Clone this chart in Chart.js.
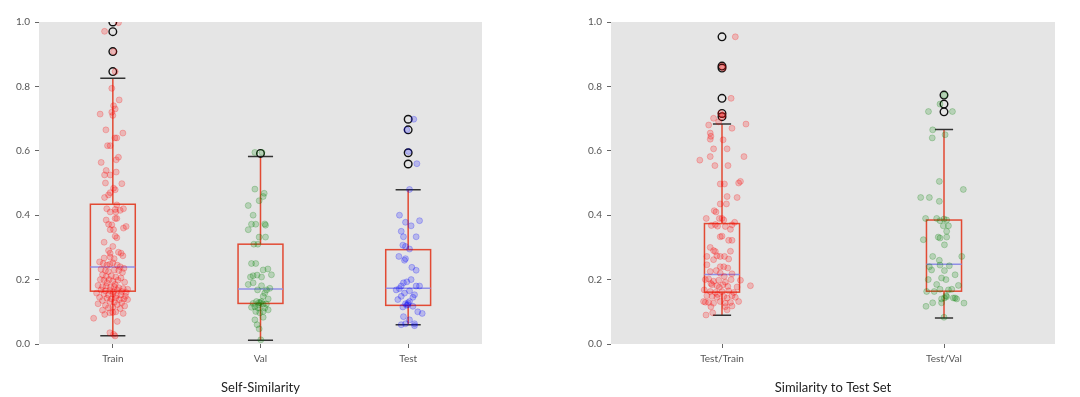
<!DOCTYPE html>
<html>
<head>
<meta charset="utf-8">
<script src="https://cdn.jsdelivr.net/npm/chart.js@4/dist/chart.umd.min.js"></script>
<style>
  body { margin: 0; background: #fff; }
  .panel { position: absolute; top: 0; width: 540px; height: 397px; }
  #p1 { left: 0; }
  #p2 { left: 540px; }
</style>
</head>
<body>
<div class="panel" id="p1"><canvas id="selfChart"></canvas></div>
<div class="panel" id="p2"><canvas id="testChart"></canvas></div>
<script>
// ---- left panel: Self-Similarity ----
const selfCats = ['Train', 'Val', 'Test'];
const selfQ1 = [0.164, 0.126, 0.120];
const selfMedian = [0.239, 0.171, 0.173];
const selfQ3 = [0.434, 0.310, 0.293];
const selfWhiskLo = [0.026, 0.012, 0.060];
const selfWhiskHi = [0.825, 0.582, 0.479];
const selfOutliers = [[0.846, 0.908, 0.970, 1.0], [0.592], [0.559, 0.594, 0.665, 0.698]];

// jittered points: [offset from category, value]
const trainPts = [
  [-0.056,0.971],[0.038,0.998],[0.005,0.908],[0.016,0.846],[-0.007,0.794],[-0.086,0.714],[0.043,0.758],
  [0.005,0.74],[0.016,0.73],[-0.007,0.72],[0,0.71],[-0.047,0.665],[0.068,0.655],[0.014,0.64],[0.027,0.64],
  [-0.036,0.616],[-0.018,0.616],[0.038,0.58],[0.023,0.572],[-0.079,0.564],[-0.045,0.539],[0.023,0.534],
  [-0.018,0.525],[-0.056,0.525],[-0.05,0.5],[0.061,0.498],[0.005,0.484],[0.016,0.479],[-0.018,0.47],
  [-0.029,0.463],[-0.056,0.455],[0.027,0.432],[-0.041,0.42],[0.016,0.418],[0.05,0.415],[-0.018,0.41],
  [0.02,0.41],[0.072,0.42],[0.016,0.39],[0.027,0.39],[-0.045,0.385],[-0.029,0.372],[-0.007,0.37],
  [-0.018,0.355],[0.005,0.355],[0.072,0.36],[0.09,0.365],[0.016,0.335],[0.027,0.33],[-0.059,0.316],
  [0,0.303],[-0.029,0.29],[-0.018,0.282],[0.038,0.285],[0.056,0.282],[0.068,0.274],[-0.018,0.27],
  [0.009,0.265],[-0.059,0.267],
  [-0.09,0.255],[-0.065,0.25],[-0.04,0.245],[-0.02,0.248],[0.0,0.252],[0.03,0.245],[0.05,0.24],
  [0.075,0.235],[-0.08,0.232],[-0.05,0.228],[-0.03,0.225],[0.01,0.23],[0.04,0.228],[0.065,0.222],
  [-0.07,0.215],[-0.045,0.21],[-0.01,0.212],[0.02,0.208],[0.055,0.205],[-0.085,0.2],[-0.06,0.198],
  [-0.025,0.2],[0.0,0.195],[0.035,0.198],[0.08,0.192],[-0.04,0.19],[0.015,0.185],
  [-0.1,0.182],[-0.07,0.178],[-0.045,0.18],[-0.015,0.176],[0.01,0.178],[0.04,0.175],[0.07,0.172],
  [0.1,0.17],[-0.08,0.168],[-0.05,0.165],[-0.02,0.166],[0.005,0.162],[0.03,0.168],[0.06,0.163],
  [0.09,0.16],[-0.11,0.158],[-0.06,0.155],[-0.03,0.152],[0.0,0.155],[0.025,0.15],[0.055,0.152],
  [0.085,0.148],[-0.09,0.145],[-0.04,0.142],[-0.01,0.14],[0.02,0.143],[0.045,0.138],[0.075,0.14],
  [0.1,0.138],[-0.07,0.135],[-0.02,0.132],[0.01,0.13],[0.06,0.128],[-0.1,0.125],[-0.05,0.12],
  [0.03,0.122],[0.08,0.118],[-0.03,0.112],[0.0,0.115],[0.05,0.11],[-0.07,0.105],[0.02,0.1],
  [0.0,0.098],[-0.02,0.097],[0.07,0.095],[-0.055,0.092],[-0.13,0.08],[0.03,0.07],[-0.02,0.035],
  [0.005,0.03],[0.015,0.025]
];
const valPts = [
  [-0.038,0.595],[0.01,0.595],[-0.038,0.481],[0.025,0.468],[0.018,0.458],[-0.009,0.445],[-0.083,0.43],
  [-0.05,0.4],[-0.061,0.372],[-0.032,0.372],[0.029,0.373],[0.034,0.369],[-0.083,0.355],[-0.009,0.332],
  [0.034,0.332],[-0.045,0.31],[-0.018,0.31],[-0.061,0.25],[-0.032,0.25],[0.018,0.23],[0.05,0.233],
  [-0.05,0.212],[-0.023,0.214],[0.007,0.208],[-0.068,0.208],[0.074,0.215],[-0.083,0.185],[-0.05,0.19],
  [0.007,0.181],[-0.02,0.168],[0.041,0.168],[0.063,0.173],[0.029,0.158],[0.018,0.148],[0.052,0.14],
  [-0.027,0.132],[-0.009,0.129],[0.007,0.132],[-0.05,0.126],[0.018,0.124],[-0.038,0.116],[-0.016,0.112],
  [-0.061,0.114],[0.029,0.112],[0.052,0.106],[0.018,0.101],[-0.032,0.101],[-0.005,0.097],[0.018,0.083],
  [-0.038,0.075],[-0.023,0.06],[-0.009,0.047],[0.002,0.013],[-0.012,0.121],[0.0,0.128],[0.04,0.124]
];
const testPts = [
  [0.038,0.698],[-0.009,0.665],[0.002,0.598],[0.059,0.56],[0.009,0.48],[-0.059,0.4],[-0.018,0.378],
  [0.077,0.383],[0.02,0.367],[-0.047,0.35],[-0.032,0.333],[0.054,0.333],[-0.036,0.307],[-0.018,0.303],
  [0.009,0.295],[-0.063,0.272],[-0.018,0.265],[-0.025,0.26],[0.025,0.238],[0.054,0.229],[-0.032,0.19],
  [-0.009,0.193],[0.02,0.2],[0.054,0.18],[-0.047,0.18],[-0.081,0.168],[0.009,0.165],[0.077,0.18],
  [-0.025,0.158],[-0.047,0.148],[0.032,0.145],[0.043,0.153],[-0.07,0.138],[0.009,0.132],[-0.018,0.125],
  [-0.002,0.122],[-0.036,0.115],[0.032,0.117],[0.065,0.1],[0.095,0.095],[-0.032,0.085],[0.009,0.075],
  [-0.018,0.063],[0.043,0.063],[-0.047,0.06],[0.043,0.057],[-0.01,0.12],[0.0,0.128],[-0.06,0.172]
];

// ---- right panel: Similarity to Test Set ----
const simCats = ['Test/Train', 'Test/Val'];
const simQ1 = [0.161, 0.164];
const simMedian = [0.216, 0.248];
const simQ3 = [0.374, 0.385];
const simWhiskLo = [0.089, 0.081];
const simWhiskHi = [0.683, 0.666];
const simOutliers = [[0.706, 0.716, 0.763, 0.857, 0.863, 0.954], [0.721, 0.745, 0.773]];

const testTrainPts = [
  [0.06,0.954],[0.0,0.863],[0.005,0.857],[0.041,0.763],[-0.006,0.716],[0.0,0.706],[0.005,0.711],
  [-0.038,0.701],[-0.015,0.69],[0.108,0.683],[-0.06,0.68],[0.045,0.67],[-0.053,0.655],[-0.05,0.645],
  [-0.053,0.636],[0.005,0.634],[0.023,0.606],[-0.038,0.606],[-0.1,0.571],[0.099,0.582],[-0.053,0.582],
  [-0.032,0.554],[0.027,0.554],[0.075,0.5],[0.083,0.505],[-0.008,0.497],[0.011,0.497],[0.068,0.455],
  [0.023,0.458],[-0.008,0.435],[0.02,0.435],[-0.035,0.414],[-0.027,0.41],[-0.012,0.39],[0.0,0.39],
  [0.008,0.385],[-0.071,0.39],[-0.048,0.368],[-0.03,0.371],[-0.02,0.366],[0.015,0.365],[0.045,0.37],
  [0.057,0.378],[0.038,0.356],[-0.008,0.333],[0.0,0.335],[0.03,0.322],[0.045,0.322],[-0.053,0.3],
  [-0.038,0.29],[-0.03,0.287],[0.038,0.288],[-0.068,0.272],[-0.023,0.274],[-0.008,0.272],[0.011,0.272],
  [-0.038,0.262],[0.03,0.264],[-0.068,0.246],[-0.008,0.24],[0.008,0.24],[0.026,0.236],[-0.053,0.225],
  [-0.026,0.228],[-0.008,0.22],[0.045,0.218],[-0.075,0.2],[-0.06,0.202],[-0.038,0.195],[-0.015,0.198],
  [0.015,0.192],[0.041,0.2],[0.083,0.198],[-0.045,0.184],[-0.023,0.181],[0.005,0.184],[0.026,0.179],
  [0.068,0.177],[0.128,0.181],[-0.08,0.168],[-0.053,0.163],[-0.03,0.16],[0.0,0.163],[0.03,0.165],
  [0.053,0.16],[-0.068,0.15],[-0.045,0.148],[-0.023,0.145],[0.008,0.148],[0.023,0.143],[0.045,0.15],
  [-0.083,0.132],[-0.06,0.129],[-0.038,0.127],[-0.008,0.132],[0.015,0.127],[0.038,0.129],[0.075,0.132],
  [-0.05,0.116],[0.015,0.116],[0.045,0.118],[0.023,0.106],[-0.042,0.097],[-0.072,0.09],[-0.075,0.13],
  [-0.012,0.176],[0.01,0.21],[-0.05,0.188],[0.06,0.145],[-0.02,0.154]
];
const testValPts = [
  [0.002,0.773],[-0.018,0.745],[-0.07,0.722],[0.038,0.722],[-0.051,0.665],[-0.053,0.64],[0.005,0.65],
  [-0.021,0.505],[0.087,0.48],[-0.105,0.455],[-0.066,0.455],[-0.021,0.443],[-0.083,0.39],[-0.033,0.39],
  [0.0,0.388],[0.012,0.385],[-0.018,0.383],[-0.003,0.367],[0.02,0.367],[0.012,0.35],[-0.026,0.332],
  [-0.018,0.329],[0.012,0.332],[-0.093,0.324],[0.002,0.308],[-0.051,0.272],[0.08,0.272],[-0.021,0.26],
  [-0.066,0.24],[-0.056,0.23],[-0.018,0.245],[0.024,0.243],[0.002,0.228],[0.05,0.215],[-0.011,0.205],
  [0.009,0.2],[-0.071,0.2],[-0.033,0.185],[0.065,0.182],[-0.018,0.17],[0.02,0.168],[0.035,0.17],
  [-0.044,0.163],[-0.078,0.163],[0.012,0.147],[0.002,0.143],[0.009,0.15],[0.042,0.143],[0.05,0.143],
  [-0.011,0.14],[0.057,0.14],[-0.051,0.128],[-0.011,0.128],[0.09,0.127],[-0.081,0.117],[0.0,0.083]
];

const boxRed = '#E24A33';
const medianColor = '#8f8fe6';
const capColor = '#333333';

Chart.defaults.font.family = 'Lato, "DejaVu Sans", sans-serif';
Chart.defaults.color = '#555';

// gray plot background + box/whisker drawing through the scales
const boxPlugin = {
  id: 'boxes',
  beforeDatasetsDraw(chart, args, opts) {
    const { ctx, scales: { x, y } } = chart;
    ctx.save();
    ctx.lineWidth = 1.5;
    opts.q1.forEach((q1, i) => {
      const c = i + 1;
      const xl = x.getPixelForValue(c - opts.boxHalf), xr = x.getPixelForValue(c + opts.boxHalf);
      const xc = x.getPixelForValue(c);
      const cl = x.getPixelForValue(c - opts.capHalf), cr = x.getPixelForValue(c + opts.capHalf);
      const yq1 = y.getPixelForValue(q1), yq3 = y.getPixelForValue(opts.q3[i]);
      const ylo = y.getPixelForValue(opts.lo[i]), yhi = y.getPixelForValue(opts.hi[i]);
      const ym = y.getPixelForValue(opts.med[i]);
      ctx.strokeStyle = boxRed;
      ctx.beginPath();
      ctx.moveTo(xc, yq3); ctx.lineTo(xc, yhi);
      ctx.moveTo(xc, yq1); ctx.lineTo(xc, ylo);
      ctx.stroke();
      ctx.strokeRect(xl, yq3, xr - xl, yq1 - yq3);
      ctx.strokeStyle = capColor;
      ctx.beginPath();
      ctx.moveTo(cl, yhi); ctx.lineTo(cr, yhi);
      ctx.moveTo(cl, ylo); ctx.lineTo(cr, ylo);
      ctx.stroke();
      ctx.strokeStyle = medianColor;
      ctx.beginPath();
      ctx.moveTo(xl, ym); ctx.lineTo(xr, ym);
      ctx.stroke();
    });
    ctx.restore();
  },
  beforeDraw(chart) {
    const { ctx, chartArea: a } = chart;
    ctx.save();
    ctx.fillStyle = '#E5E5E5';
    ctx.fillRect(a.left, a.top, a.right - a.left, a.bottom - a.top);
    ctx.restore();
  }
};

function pointSet(pts, cat, rgb) {
  return {
    data: pts.map(p => ({ x: cat + p[0], y: p[1] })),
    backgroundColor: 'rgba(' + rgb + ',0.2)',
    borderColor: 'rgba(' + rgb + ',0.22)',
    borderWidth: 1,
    pointRadius: 3,
    clip: 0
  };
}

function outlierSet(outs) {
  const data = [];
  outs.forEach((vals, i) => vals.forEach(v => data.push({ x: i + 1, y: v })));
  return {
    data: data,
    backgroundColor: 'rgba(0,0,0,0)',
    borderColor: '#111',
    borderWidth: 1.4,
    pointRadius: 3.8,
    clip: 0
  };
}

function makeChart(id, cats, stats, datasets, title, pad, boxHalf, capHalf) {
  new Chart(document.getElementById(id), {
    type: 'scatter',
    data: { datasets: datasets },
    plugins: [boxPlugin],
    options: {
      responsive: true,
      maintainAspectRatio: false,
      animation: false,
      events: [],
      layout: { padding: pad },
      plugins: {
        legend: { display: false },
        tooltip: { enabled: false },
        boxes: Object.assign({ boxHalf: boxHalf, capHalf: capHalf }, stats)
      },
      scales: {
        x: {
          type: 'linear',
          min: 0.5,
          max: cats.length + 0.5,
          afterBuildTicks: s => { s.ticks = cats.map((c, i) => ({ value: i + 1 })); },
          afterFit: s => { s.height = 53; },
          ticks: {
            callback: v => cats[Math.round(v) - 1],
            font: { size: 10 },
            color: '#555',
            padding: 5,
            autoSkip: false,
            maxRotation: 0
          },
          grid: { drawOnChartArea: false, drawTicks: true, tickLength: 4, tickColor: '#666' },
          border: { display: false },
          title: {
            display: true,
            text: title,
            color: '#222',
            font: { size: 13 },
            padding: { top: 0, bottom: 1 }
          }
        },
        y: {
          min: 0,
          max: 1,
          afterFit: s => { s.width = 39; },
          ticks: {
            stepSize: 0.2,
            callback: v => v.toFixed(1),
            font: { size: 10 },
            color: '#555',
            padding: 5
          },
          grid: { drawOnChartArea: false, drawTicks: true, tickLength: 4, tickColor: '#666' },
          border: { display: false }
        }
      }
    }
  });
}

makeChart('selfChart', selfCats,
  { q1: selfQ1, med: selfMedian, q3: selfQ3, lo: selfWhiskLo, hi: selfWhiskHi },
  [
    pointSet(trainPts, 1, '255,0,0'),
    pointSet(valPts, 2, '0,128,0'),
    pointSet(testPts, 3, '0,0,255'),
    outlierSet(selfOutliers)
  ],
  'Self-Similarity', { top: 22, right: 58, left: 0, bottom: 0 }, 0.152, 0.085);

makeChart('testChart', simCats,
  { q1: simQ1, med: simMedian, q3: simQ3, lo: simWhiskLo, hi: simWhiskHi },
  [
    pointSet(testTrainPts, 1, '255,0,0'),
    pointSet(testValPts, 2, '0,128,0'),
    outlierSet(simOutliers)
  ],
  'Similarity to Test Set', { top: 22, right: 25, left: 32, bottom: 0 }, 0.079, 0.041);
</script>
</body>
</html>
